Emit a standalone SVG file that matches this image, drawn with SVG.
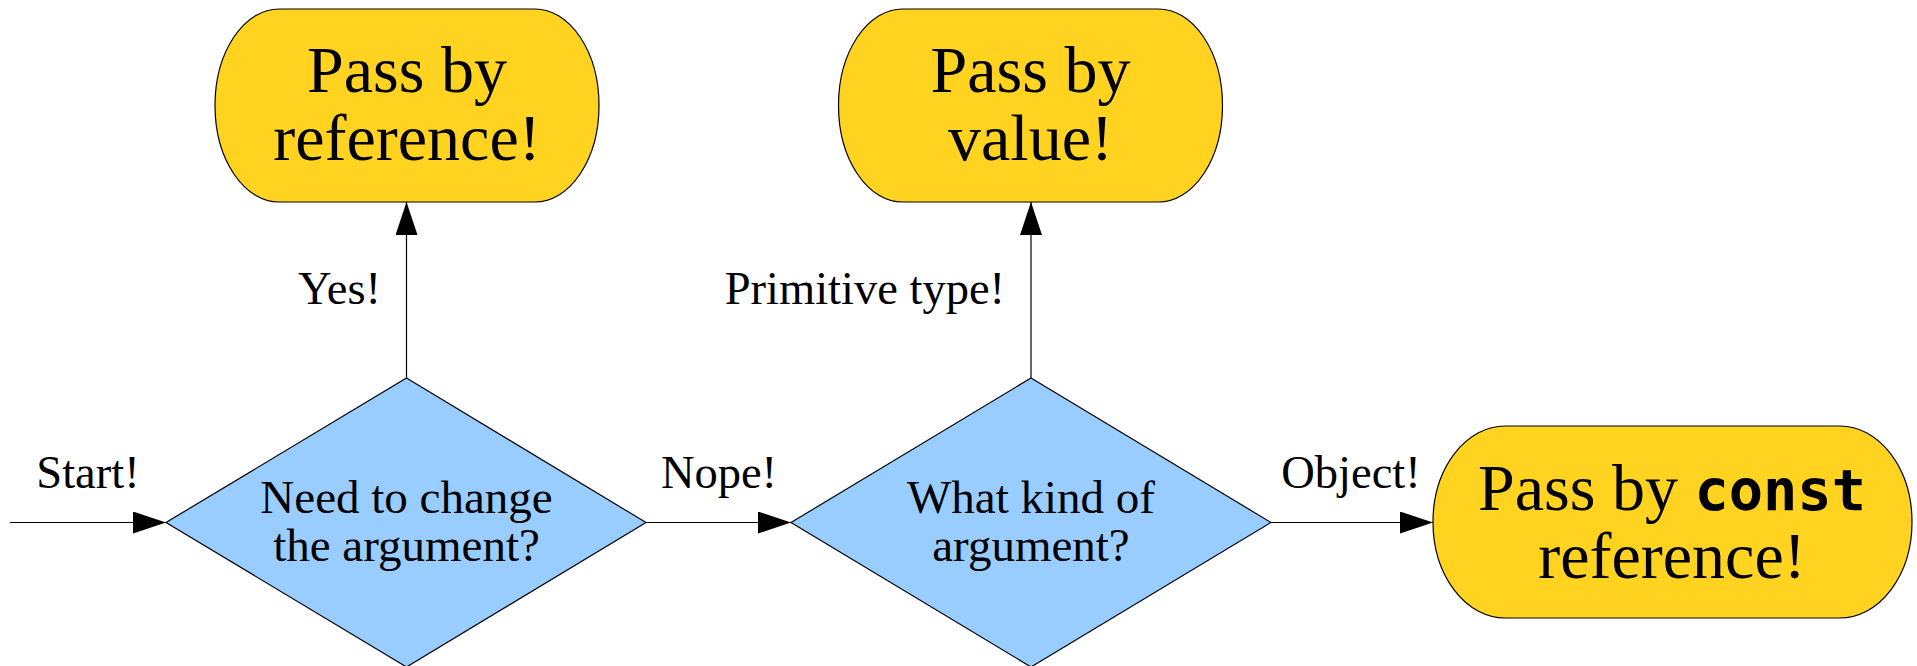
<svg xmlns="http://www.w3.org/2000/svg" width="1917" height="666" viewBox="0 0 1917 666">
<defs>
<style>
.pill{fill:#ffd320;stroke:#000;stroke-width:1.2}
.dia{fill:#99ccff;stroke:#000;stroke-width:1.2}
.big{font-family:"Liberation Serif","Times New Roman",serif;font-size:66px;fill:#000;text-anchor:middle}
.mid{font-family:"Liberation Serif","Times New Roman",serif;font-size:47px;fill:#000;text-anchor:middle}
.lbl{font-family:"Liberation Serif","Times New Roman",serif;font-size:46.5px;fill:#000;text-anchor:middle}
.code{font-family:"DejaVu Sans Mono","Liberation Mono",monospace;font-weight:bold;font-size:57px}
.edge{stroke:#000;stroke-width:1.2;fill:none;marker-end:url(#arr)}
</style>
<marker id="arr" markerUnits="userSpaceOnUse" viewBox="0 0 33 22" refX="33" refY="11" markerWidth="33" markerHeight="22" orient="auto">
<path d="M0,0 L33,11 L0,22 z" fill="#000"/>
</marker>
</defs>
<rect width="1917" height="666" fill="#fff"/>
<g id="connectors">
<line class="edge" x1="10" y1="522.5" x2="166" y2="522.5"/>
<line class="edge" x1="646" y1="522.5" x2="791" y2="522.5"/>
<line class="edge" x1="1271" y1="522.5" x2="1433" y2="522.5"/>
<line class="edge" x1="406.5" y1="378" x2="406.5" y2="202"/>
<line class="edge" x1="1031" y1="378" x2="1031" y2="202"/>
<text class="lbl" x="88" y="488">Start!</text>
<text class="lbl" x="719" y="488">Nope!</text>
<text class="lbl" x="1351" y="488">Object!</text>
<text class="lbl" x="339.5" y="304">Yes!</text>
<text class="lbl" x="1005" y="304" style="text-anchor:end">Primitive type!</text>
</g>
<g id="node-change">
<polygon class="dia" points="406.5,378 646,522.5 406.5,667 166,522.5"/>
<text class="mid" x="406.5" y="513">Need to change</text>
<text class="mid" x="406.5" y="561">the argument?</text>
</g>
<g id="node-kind">
<polygon class="dia" points="1031,378 1271,522.5 1031,667 791,522.5"/>
<text class="mid" x="1031" y="513">What kind of</text>
<text class="mid" x="1031" y="561">argument?</text>
</g>
<g id="node-ref">
<rect class="pill" x="215" y="9" width="384" height="193" rx="64" ry="96.5"/>
<text class="big" x="407" y="92">Pass by</text>
<text class="big" x="407" y="160">reference!</text>
</g>
<g id="node-value">
<rect class="pill" x="838.5" y="9" width="384" height="193" rx="64" ry="96.5"/>
<text class="big" x="1030.5" y="92">Pass by</text>
<text class="big" x="1030.5" y="160">value!</text>
</g>
<g id="node-constref">
<rect class="pill" x="1433" y="426" width="479" height="192" rx="72" ry="96"/>
<text class="big" x="1672" y="510">Pass by <tspan class="code">const</tspan></text>
<text class="big" x="1672" y="578">reference!</text>
</g>
</svg>
